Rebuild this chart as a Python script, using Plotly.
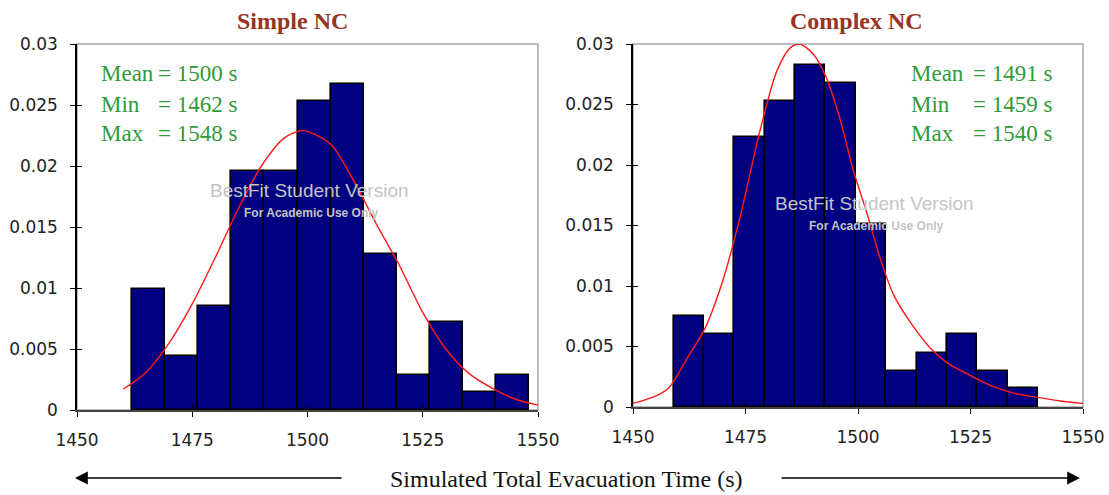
import numpy as np
import plotly.graph_objects as go

# ---- Simple NC: 100 simulated runs, 12 histogram bins between min and max ----
simple_mean, simple_min, simple_max = 1500, 1462, 1548
simple_density = [0.0099, 0.0044, 0.0085, 0.0196, 0.0196, 0.0253,
                  0.0267, 0.0128, 0.0029, 0.0072, 0.0015, 0.0029]
simple_fit_x = [1460, 1465, 1470, 1475, 1480, 1485, 1490, 1495, 1499, 1505,
                1510, 1515, 1520, 1525, 1530, 1535, 1540, 1545, 1550]
simple_fit_y = [0.0017, 0.0031, 0.0055, 0.0087, 0.0125, 0.0165, 0.0200, 0.0223,
                0.0229, 0.0218, 0.0188, 0.0152, 0.0118, 0.0080, 0.0050, 0.0030,
                0.0018, 0.0009, 0.0004]

# ---- Complex NC ----
complex_mean, complex_min, complex_max = 1491, 1459, 1540
complex_density = [0.0075, 0.0060, 0.0223, 0.0253, 0.0283, 0.0268,
                   0.0151, 0.0030, 0.0045, 0.0060, 0.0030, 0.0016]
complex_fit_x = [1450, 1455, 1458, 1462, 1466, 1470, 1474, 1478, 1482, 1485,
                 1487, 1490, 1493, 1496, 1499, 1502, 1505, 1508, 1512, 1516,
                 1520, 1525, 1530, 1535, 1540, 1545, 1550]
complex_fit_y = [0.0003, 0.0009, 0.0016, 0.0040, 0.0065, 0.0105, 0.0160, 0.0225,
                 0.0278, 0.0297, 0.0300, 0.0292, 0.0272, 0.0238, 0.0195, 0.0160,
                 0.0122, 0.0092, 0.0068, 0.0049, 0.0036, 0.0026, 0.0017, 0.0011,
                 0.0008, 0.0005, 0.0003]

x_ticks = [1450, 1475, 1500, 1525, 1550]
y_ticks = [0, 0.005, 0.01, 0.015, 0.02, 0.025, 0.03]
y_tick_labels = ["0", "0.005", "0.01", "0.015", "0.02", "0.025", "0.03"]

W, H = 1109, 495
BAR_COLOR = "#000080"
FIT_COLOR = "#ff1a1a"
STAT_COLOR = "#2f9a3a"
TITLE_COLOR = "#993322"
WM_COLOR = "#c4c4c4"
SERIF = "Liberation Serif, Times New Roman, serif"
SANS = "DejaVu Sans, Verdana, sans-serif"


def px(x):
    return x / W


def py(y):
    return 1 - y / H


def bins(lo, hi, n):
    edges = np.linspace(lo, hi, n + 1)
    return (edges[:-1] + edges[1:]) / 2, edges[1] - edges[0]


fig = go.Figure()

panels = [
    ("x", "y", simple_min, simple_max, simple_density, simple_fit_x, simple_fit_y),
    ("x2", "y2", complex_min, complex_max, complex_density, complex_fit_x, complex_fit_y),
]
for xa, ya, lo, hi, dens, fx, fy in panels:
    centers, width = bins(lo, hi, len(dens))
    fig.add_trace(go.Bar(
        x=centers, y=dens, width=width, xaxis=xa, yaxis=ya,
        marker=dict(color=BAR_COLOR, line=dict(color="black", width=1.6)),
        hoverinfo="skip",
    ))
    fig.add_trace(go.Scatter(
        x=fx, y=fy, mode="lines", xaxis=xa, yaxis=ya,
        line=dict(color=FIT_COLOR, width=1.4, shape="spline", smoothing=0.8),
        hoverinfo="skip",
    ))

# empty traces so the overlay axes (inner half of the crossing ticks) get drawn
for xa, ya in [("x3", "y3"), ("x4", "y4")]:
    fig.add_trace(go.Scatter(x=[None], y=[None], xaxis=xa, yaxis=ya,
                             mode="markers", hoverinfo="skip"))

left_dom = [px(77), px(538)]
right_dom = [px(633), px(1083)]
left_ydom = [py(410), py(44)]
right_ydom = [py(407), py(44)]

tick_font = dict(family=SANS, size=17, color="#222222")
xcommon = dict(range=[1450, 1550], tickvals=x_ticks, ticks="outside", ticklen=5,
               tickwidth=1.3, tickcolor="black", showline=True, linecolor="#444444",
               linewidth=1.5, showgrid=False, zeroline=False, tickfont=tick_font,
               ticklabelstandoff=9, fixedrange=True, automargin=False)
ycommon = dict(range=[0, 0.03], tickvals=y_ticks, ticktext=y_tick_labels,
               ticks="outside", ticklen=5, tickwidth=1.3, tickcolor="black",
               showline=True, linecolor="black", linewidth=1.5, showgrid=False,
               zeroline=False, tickfont=tick_font, ticklabelstandoff=9,
               fixedrange=True, automargin=False)
inner = dict(ticks="inside", ticklen=5, tickwidth=1.3, tickcolor="black",
             showticklabels=False, showline=False, showgrid=False, zeroline=False,
             fixedrange=True, automargin=False)

fig.update_layout(
    width=W, height=H, margin=dict(l=0, r=0, t=0, b=0, pad=0, autoexpand=False),
    paper_bgcolor="white", plot_bgcolor="white", showlegend=False, bargap=0,
    xaxis=dict(domain=left_dom, anchor="y", **xcommon),
    yaxis=dict(domain=left_ydom, anchor="x", **ycommon),
    xaxis2=dict(domain=right_dom, anchor="y2", **xcommon),
    yaxis2=dict(domain=right_ydom, anchor="x2", **ycommon),
    xaxis3=dict(overlaying="x", anchor="y", range=[1450, 1550], tickvals=x_ticks, **inner),
    yaxis3=dict(overlaying="y", anchor="x", range=[0, 0.03], tickvals=y_ticks, **inner),
    xaxis4=dict(overlaying="x2", anchor="y2", range=[1450, 1550], tickvals=x_ticks, **inner),
    yaxis4=dict(overlaying="y2", anchor="x2", range=[0, 0.03], tickvals=y_ticks, **inner),
)

# grey frame on the top and right of each plot area
for xa, ya in [("x", "y"), ("x2", "y2")]:
    fig.add_shape(type="rect", xref=f"{xa} domain", yref=f"{ya} domain",
                  x0=0, x1=1, y0=0, y1=1, layer="below",
                  line=dict(color="#a8a8a8", width=1.5))


def text_ann(text, x, y, size, color, family, xanchor="center"):
    return dict(text=text, x=px(x), y=py(y), xref="paper", yref="paper",
                showarrow=False, xanchor=xanchor, yanchor="middle",
                font=dict(family=family, size=size, color=color))


ann = []
# panel titles
ann.append(text_ann("<b>Simple NC</b>", 292, 21, 24, TITLE_COLOR, SERIF))
ann.append(text_ann("<b>Complex NC</b>", 856, 21, 24, TITLE_COLOR, SERIF))

# summary statistics
stat_rows = [
    (99, 156, [("Mean", simple_mean), ("Min", simple_min), ("Max", simple_max)]),
    (909, 971, [("Mean", complex_mean), ("Min", complex_min), ("Max", complex_max)]),
]
for xl, xv, rows in stat_rows:
    for i, (name, val) in enumerate(rows):
        yy = 74 + 30 * i
        ann.append(text_ann(name, xl, yy, 23, STAT_COLOR, SERIF, "left"))
        ann.append(text_ann(f"= {val} s", xv, yy, 23, STAT_COLOR, SERIF, "left"))

# software watermark
WM_FONT = "Liberation Sans, Arial, sans-serif"
for cx, cy in [(309, 190), (874, 203)]:
    ann.append(text_ann("BestFit Student Version", cx, cy, 19, WM_COLOR, WM_FONT))
    ann.append(text_ann("<b>For Academic Use Only</b>", cx + 2, cy + 23, 12,
                        WM_COLOR, WM_FONT))

# shared x-axis caption with arrows
ann.append(text_ann("Simulated Total Evacuation Time (s)", 566, 479, 24,
                    "#111111", SERIF))
ann.append(dict(text="", x=px(75), y=py(478), xref="paper", yref="paper",
                showarrow=True, ax=268, ay=0, arrowhead=2, arrowsize=1.6,
                arrowwidth=1.6, arrowcolor="black", standoff=0))
ann.append(dict(text="", x=px(1080), y=py(478), xref="paper", yref="paper",
                showarrow=True, ax=-300, ay=0, arrowhead=2, arrowsize=1.6,
                arrowwidth=1.6, arrowcolor="black", standoff=0))

fig.update_layout(annotations=ann)
fig.write_html("out.html")
